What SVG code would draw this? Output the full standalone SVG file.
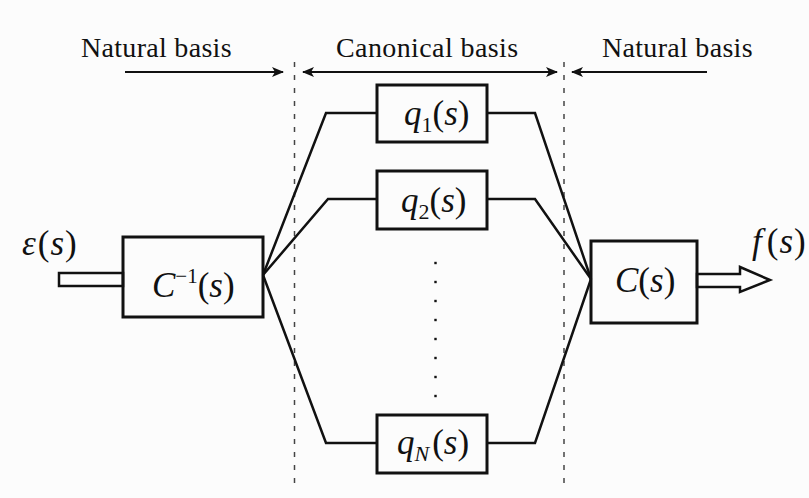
<svg xmlns="http://www.w3.org/2000/svg" width="809" height="498" viewBox="0 0 809 498">
<defs>
<marker id="ah" viewBox="0 0 12 10" refX="11" refY="5" markerWidth="12" markerHeight="10" markerUnits="userSpaceOnUse" orient="auto-start-reverse">
<path d="M0,0 L12,5 L0,10 L3,5 Z" fill="#111"/>
</marker>
</defs>
<rect width="809" height="498" fill="#fcfcfc"/>

<g id="headers" fill="#111">
<text x="81" y="57" font-family="Liberation Serif" font-size="28" letter-spacing="0.3">Natural basis</text>
<text x="336" y="57" font-family="Liberation Serif" font-size="28" letter-spacing="0.4">Canonical basis</text>
<text x="602" y="57" font-family="Liberation Serif" font-size="28" letter-spacing="0.3">Natural basis</text>
</g>

<g id="connectors">
<g fill="none" stroke="#444" stroke-width="1.5" stroke-dasharray="5 8">
<line x1="294.5" y1="62" x2="294.5" y2="490"/>
<line x1="564" y1="62" x2="564" y2="490"/>
</g>
<g fill="none" stroke="#111" stroke-width="2">
<line x1="125" y1="72" x2="283" y2="72" marker-end="url(#ah)"/>
<line x1="303" y1="72" x2="557" y2="72" marker-start="url(#ah)" marker-end="url(#ah)"/>
<line x1="707" y1="72" x2="572" y2="72" marker-end="url(#ah)"/>
</g>
<g fill="none" stroke="#111" stroke-width="2.5" stroke-linejoin="miter">
<polyline points="263,275 326,113 377,113"/>
<polyline points="263,275 328,199 377,199"/>
<polyline points="263,275 326,443 377,443"/>
<polyline points="487,113 535,113 591,279"/>
<polyline points="487,199 535,199 591,279"/>
<polyline points="487,443 535,443 591,279"/>
<rect x="59" y="273" width="64" height="13"/>
<polygon points="697,274 740,274 740,267 770,280 740,292 740,287 697,287"/>
</g>
</g>

<g id="dots" fill="#111">
<rect x="434.3" y="261.8" width="2.4" height="2.4"/>
<rect x="434.3" y="280.8" width="2.4" height="2.4"/>
<rect x="434.3" y="299.8" width="2.4" height="2.4"/>
<rect x="434.3" y="318.8" width="2.4" height="2.4"/>
<rect x="434.3" y="337.8" width="2.4" height="2.4"/>
<rect x="434.3" y="356.8" width="2.4" height="2.4"/>
<rect x="434.3" y="375.8" width="2.4" height="2.4"/>
<rect x="434.3" y="394.8" width="2.4" height="2.4"/>
</g>

<g fill="#111">
<g id="input">
<text x="22" y="255" font-family="Liberation Serif" font-size="35"><tspan font-style="italic">ε</tspan><tspan dx="2">(</tspan><tspan font-style="italic" dx="1">s</tspan><tspan dx="1">)</tspan></text>
</g>

<g id="Cinv">
<rect x="123" y="237" width="140" height="80" fill="none" stroke="#111" stroke-width="3"/>
<text x="152" y="297" font-family="Liberation Serif" font-size="35"><tspan font-style="italic">C</tspan><tspan font-size="21" dy="-14">−1</tspan><tspan dy="14">(</tspan><tspan font-style="italic">s</tspan>)</text>
</g>

<g id="q1">
<rect x="377" y="85" width="110" height="57" fill="none" stroke="#111" stroke-width="3"/>
<text x="404" y="125" font-family="Liberation Serif" font-size="35"><tspan font-style="italic">q</tspan><tspan font-size="22" dy="7">1</tspan><tspan dy="-7">(</tspan><tspan font-style="italic">s</tspan>)</text>
</g>

<g id="q2">
<rect x="377" y="171" width="110" height="58" fill="none" stroke="#111" stroke-width="3"/>
<text x="401" y="212" font-family="Liberation Serif" font-size="35"><tspan font-style="italic">q</tspan><tspan font-size="22" dy="7">2</tspan><tspan dy="-7">(</tspan><tspan font-style="italic">s</tspan>)</text>
</g>

<g id="qN">
<rect x="377" y="415" width="110" height="58" fill="none" stroke="#111" stroke-width="3"/>
<text x="397" y="454" font-family="Liberation Serif" font-size="35"><tspan font-style="italic">q</tspan><tspan font-style="italic" font-size="22" dy="7">N</tspan><tspan dy="-7" dx="3">(</tspan><tspan font-style="italic">s</tspan>)</text>
</g>

<g id="C">
<rect x="591" y="241" width="106" height="82" fill="none" stroke="#111" stroke-width="3"/>
<text x="615" y="292" font-family="Liberation Serif" font-size="35"><tspan font-style="italic">C</tspan>(<tspan font-style="italic">s</tspan>)</text>
</g>

<g id="output">
<text x="752" y="253" font-family="Liberation Serif" font-size="35"><tspan font-style="italic">f</tspan><tspan dx="5">(</tspan><tspan font-style="italic" dx="1">s</tspan><tspan dx="1">)</tspan></text>
</g>
</g>
</svg>
